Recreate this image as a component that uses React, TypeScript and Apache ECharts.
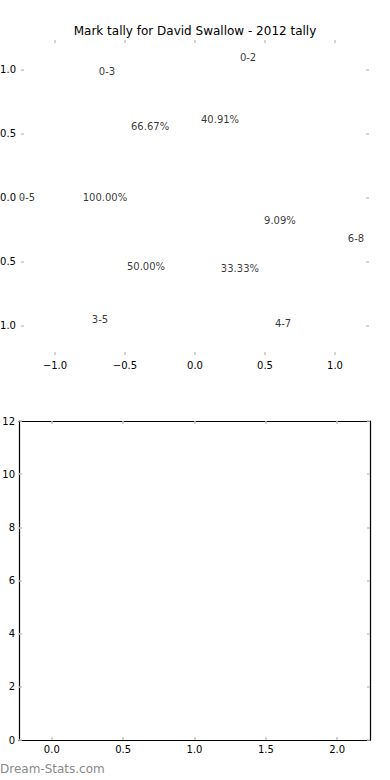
import React, { useEffect, useRef } from "react";
import * as echarts from "echarts";

const titleText = "Mark tally for David Swallow - 2012 tally";

// Pie-style labels in data coordinates of the top axes
const labelTexts = ["0-2", "0-3", "66.67%", "40.91%", "0-5", "100.00%", "9.09%", "6-8", "50.00%", "33.33%", "3-5", "4-7"];
const labelX = [0.379, -0.629, -0.321, 0.179, -1.2, -0.643, 0.607, 1.15, -0.35, 0.321, -0.679, 0.629];
const labelY = [1.094, 0.984, 0.555, 0.609, 0.0, 0.0, -0.18, -0.32, -0.539, -0.555, -0.953, -0.984];

const topTicks = [-1.0, -0.5, 0.0, 0.5, 1.0];
const bottomXTicks = [0.0, 0.5, 1.0, 1.5, 2.0];
const bottomYTicks = [0, 2, 4, 6, 8, 10, 12];

const FONT = "DejaVu Sans";
const TICK_COLOR = "#c4c4c4";

const fmt1 = (v: number) => (v < 0 ? "\u2212" + Math.abs(v).toFixed(1) : v.toFixed(1));

export default function App() {
  const ref = useRef<HTMLDivElement>(null);
  useEffect(() => {
    if (!ref.current) return;
    const chart = echarts.init(ref.current, null, { renderer: "svg" });

    const ticks = (vals: number[]) => ({
      show: true, inside: true, length: 3, customValues: vals,
      lineStyle: { color: TICK_COLOR, width: 1.5 },
    });

    const tickOnly = (extra: any) => ({
      type: "value",
      axisLine: { show: false, onZero: false },
      splitLine: { show: false },
      ...extra,
    });

    const frameAxis = (extra: any) => ({
      type: "value",
      axisLine: { show: true, onZero: false, lineStyle: { color: "#000", width: 1.2 } },
      splitLine: { show: false },
      ...extra,
    });

    const labelStyle = { color: "#000", fontFamily: FONT, fontSize: 10 };

    const option: any = {
      animation: false,
      backgroundColor: "#fff",
      title: {
        text: titleText,
        left: "center",
        top: 20,
        textStyle: { fontFamily: FONT, fontSize: 12, fontWeight: "normal", color: "#000" },
      },
      grid: [
        { left: 21, right: 21, top: 40, height: 315, containLabel: false, outerBoundsMode: "none" },
        { left: 19, right: 20, top: 421, height: 319, containLabel: false, outerBoundsMode: "none" },
      ],
      xAxis: [
        tickOnly({
          gridIndex: 0, position: "bottom", min: -1.243, max: 1.243,
          axisTick: ticks(topTicks),
          axisLabel: { show: true, customValues: topTicks, formatter: fmt1, margin: 5, ...labelStyle },
        }),
        tickOnly({
          gridIndex: 0, position: "top", min: -1.243, max: 1.243,
          axisTick: ticks(topTicks),
          axisLabel: { show: false },
        }),
        frameAxis({
          gridIndex: 1, position: "bottom", min: -0.23, max: 2.23,
          axisTick: ticks(bottomXTicks),
          axisLabel: { show: true, customValues: bottomXTicks, formatter: fmt1, margin: 4, ...labelStyle },
        }),
        frameAxis({
          gridIndex: 1, position: "top", min: -0.23, max: 2.23,
          axisTick: ticks(bottomXTicks),
          axisLabel: { show: false },
        }),
      ],
      yAxis: [
        tickOnly({
          gridIndex: 0, position: "left", min: -1.23, max: 1.23,
          axisTick: ticks(topTicks),
          axisLabel: { show: true, customValues: topTicks, formatter: fmt1, margin: 5, ...labelStyle },
        }),
        tickOnly({
          gridIndex: 0, position: "right", min: -1.23, max: 1.23,
          axisTick: ticks(topTicks),
          axisLabel: { show: false },
        }),
        frameAxis({
          gridIndex: 1, position: "left", min: 0, max: 12,
          axisTick: ticks(bottomYTicks),
          axisLabel: { show: true, customValues: bottomYTicks, margin: 4, ...labelStyle },
        }),
        frameAxis({
          gridIndex: 1, position: "right", min: 0, max: 12,
          axisTick: ticks(bottomYTicks),
          axisLabel: { show: false },
        }),
      ],
      series: [
        {
          type: "scatter",
          xAxisIndex: 0,
          yAxisIndex: 0,
          symbolSize: 1,
          itemStyle: { color: "rgba(0,0,0,0)" },
          data: labelTexts.map((t, i) => [labelX[i], labelY[i], t]),
          label: {
            show: true,
            position: "inside",
            align: "center",
            verticalAlign: "middle",
            formatter: (p: any) => p.data[2],
            color: "#000",
            fontFamily: FONT,
            fontSize: 10,
          },
        },
      ],
      graphic: [
        {
          type: "text",
          left: 0,
          top: 763,
          style: { text: "Dream-Stats.com", fill: "#8a8a8a", font: `12px "${FONT}"` },
        },
      ],
    };

    chart.setOption(option);
    return () => chart.dispose();
  }, []);

  return (
    <div
      ref={ref}
      style={{ position: "fixed", left: 0, top: 0, width: 390, height: 780, background: "#fff" }}
    />
  );
}
